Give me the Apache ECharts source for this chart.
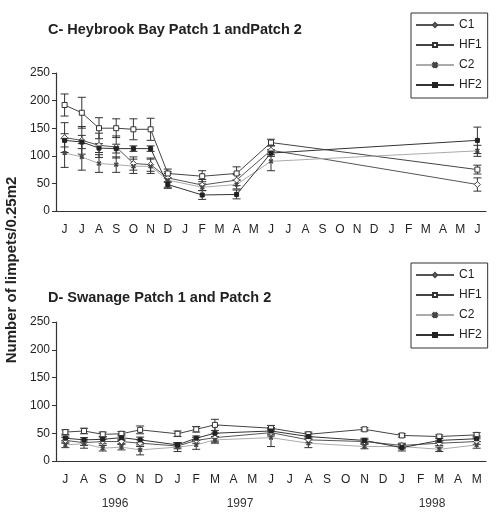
<!DOCTYPE html>
<html>
<head>
<meta charset="utf-8">
<script src="https://cdn.jsdelivr.net/npm/echarts@6/dist/echarts.min.js"></script>
<style>
  html, body { margin: 0; padding: 0; background: #fff; }
  #chart { width: 499px; height: 517px; }
</style>
</head>
<body>
<div id="chart"></div>
<script>
// month categories
const topMonths = ['J','J','A','S','O','N','D','J','F','M','A','M','J','J','A','S','O','N','D','J','F','M','A','M','J'];
const botMonths = ['J','A','S','O','N','D','J','F','M','A','M','J','J','A','S','O','N','D','J','F','M','A','M'];
const yearLabels = ['1996', '1997', '1998'];
const seriesNames = ['C1', 'HF1', 'C2', 'HF2'];

// C- Heybrook Bay (null = not sampled)
const topC1  = [133, 128, 119, 116, 86, 84, 60, null, 47, null, 56, null, 110, null, null, null, null, null, null, null, null, null, null, null, 48];
const topHF1 = [192, 178, 150, 150, 148, 148, 68, null, 63, null, 68, null, 124, null, null, null, null, null, null, null, null, null, null, null, 75];
const topC2  = [105, 98, 86, 84, 81, 81, 56, null, 43, null, 48, null, 90, null, null, null, null, null, null, null, null, null, null, null, 109];
const topHF2 = [128, 125, 114, 113, 113, 113, 48, null, 29, null, 30, null, 105, null, null, null, null, null, null, null, null, null, null, null, 128];
const topC1Err  = [27, 25, 22, 20, 12, 12, 8, null, 10, null, 10, null, 8, null, null, null, null, null, null, null, null, null, null, null, 12];
const topHF1Err = [20, 28, 19, 17, 19, 20, 8, null, 10, null, 12, null, 6, null, null, null, null, null, null, null, null, null, null, null, 8];
const topC2Err  = [26, 24, 16, 14, 13, 13, 15, null, 6, null, 8, null, 17, null, null, null, null, null, null, null, null, null, null, null, 10];
const topHF2Err = [12, 12, 8, 8, 5, 5, 5, null, 8, null, 8, null, 6, null, null, null, null, null, null, null, null, null, null, null, 24];

// D- Swanage
const botC1  = [37, 33, 35, 35, 32, null, 27, 37, 42, null, null, 51, null, 38, null, null, 35, null, 28, null, 32, null, 35];
const botHF1 = [52, 54, 48, 49, 56, null, 49, 57, 65, null, null, 59, null, 48, null, null, 57, null, 46, null, 44, null, 47];
const botC2  = [29, 31, 23, 25, 20, null, 25, 29, 38, null, null, 42, null, 32, null, null, 26, null, 26, null, 21, null, 29];
const botHF2 = [41, 38, 39, 42, 38, null, 29, 41, 50, null, null, 54, null, 44, null, null, 37, null, 24, null, 37, null, 40];
const botC1Err  = [5, 5, 4, 4, 6, null, 5, 5, 8, null, null, 6, null, 5, null, null, 4, null, 4, null, 4, null, 5];
const botHF1Err = [4, 5, 4, 4, 7, null, 5, 5, 10, null, null, 5, null, 4, null, null, 3, null, 3, null, 3, null, 4];
const botC2Err  = [5, 8, 5, 5, 9, null, 8, 8, 6, null, null, 16, null, 8, null, null, 4, null, 4, null, 4, null, 6];
const botHF2Err = [4, 4, 4, 5, 5, null, 4, 4, 14, null, null, 6, null, 5, null, null, 4, null, 6, null, 4, null, 5];

const FONT = 'Liberation Sans, Arial, sans-serif';
const xMark = 'path://M0,2L2,0L5,3L8,0L10,2L7,5L10,8L8,10L5,7L2,10L0,8L3,5Z';

const styles = {
  C1:  { symbol: 'diamond', size: 6, fill: '#fff', border: '#444', line: '#555' },
  HF1: { symbol: 'rect', size: 5, fill: '#fff', border: '#333', line: '#444' },
  C2:  { symbol: xMark, size: 4, fill: '#444', border: '#444', line: '#aaa' },
  HF2: { symbol: 'rect', size: 4, fill: '#222', border: '#222', line: '#333' }
};

function lineSeries(name, data, idx) {
  const s = styles[name];
  return {
    name, type: 'line', data, xAxisIndex: idx, yAxisIndex: idx,
    connectNulls: true, symbol: s.symbol, symbolSize: s.size, z: 3,
    lineStyle: { color: s.line, width: 1 },
    itemStyle: { color: s.fill, borderColor: s.border, borderWidth: 1 },
    emphasis: { disabled: true }
  };
}

function errData(vals, errs) {
  const out = [];
  vals.forEach((v, i) => {
    if (v != null && errs[i] != null) out.push([i, v - errs[i], v + errs[i]]);
  });
  return out;
}

function renderErr(params, api) {
  const x = api.value(0);
  const lo = api.coord([x, api.value(1)]);
  const hi = api.coord([x, api.value(2)]);
  const w = 4;
  const st = { stroke: '#333', lineWidth: 1 };
  return {
    type: 'group',
    children: [
      { type: 'line', shape: { x1: lo[0], y1: lo[1], x2: hi[0], y2: hi[1] }, style: st },
      { type: 'line', shape: { x1: lo[0] - w, y1: lo[1], x2: lo[0] + w, y2: lo[1] }, style: st },
      { type: 'line', shape: { x1: hi[0] - w, y1: hi[1], x2: hi[0] + w, y2: hi[1] }, style: st }
    ]
  };
}

function errSeries(name, vals, errs, idx) {
  return {
    name: name + ' err', type: 'custom', renderItem: renderErr,
    data: errData(vals, errs), xAxisIndex: idx, yAxisIndex: idx, z: 2,
    encode: { x: 0, y: [1, 2] }, silent: true
  };
}

const topSets = [[topC1, topC1Err], [topHF1, topHF1Err], [topC2, topC2Err], [topHF2, topHF2Err]];
const botSets = [[botC1, botC1Err], [botHF1, botHF1Err], [botC2, botC2Err], [botHF2, botHF2Err]];

const series = [];
[topSets, botSets].forEach((sets, idx) => {
  sets.forEach(([v, e], k) => series.push(errSeries(seriesNames[k], v, e, idx)));
  sets.forEach(([v], k) => series.push(lineSeries(seriesNames[k], v, idx)));
});

function xAxis(data, idx) {
  return {
    type: 'category', data, gridIndex: idx, boundaryGap: true,
    axisLine: { lineStyle: { color: '#333', width: 1.2 } },
    axisTick: { length: 4, lineStyle: { color: '#333' } },
    axisLabel: { interval: 0, color: '#222', fontSize: 12, fontFamily: FONT, margin: 13 },
    splitLine: { show: false }
  };
}

function yAxis(idx) {
  return {
    type: 'value', gridIndex: idx, min: 0, max: 250, interval: 50,
    axisLine: { show: true, lineStyle: { color: '#333', width: 1.2 } },
    axisTick: { show: true, length: 4, lineStyle: { color: '#333' } },
    axisLabel: { color: '#222', fontSize: 12, fontFamily: FONT, margin: 6 },
    splitLine: { show: false }
  };
}

function legend(top) {
  return {
    data: seriesNames, orient: 'vertical', left: 411, top,
    itemWidth: 38, itemHeight: 5, itemGap: 8,
    padding: [6, 6, 7, 4],
    borderColor: '#333', borderWidth: 1,
    selectedMode: false,
    textStyle: { color: '#222', fontSize: 12, fontFamily: FONT }
  };
}

const chart = echarts.init(document.getElementById('chart'));
chart.setOption({
  animation: false,
  title: [
    { text: 'C- Heybrook Bay Patch 1 andPatch 2', left: 43, top: 17,
      textStyle: { fontSize: 14.5, fontWeight: 'bold', color: '#222', fontFamily: FONT } },
    { text: 'D- Swanage Patch 1 and Patch 2', left: 43, top: 285,
      textStyle: { fontSize: 14.5, fontWeight: 'bold', color: '#222', fontFamily: FONT } }
  ],
  legend: [legend(13), legend(263)],
  grid: [
    { left: 56, right: 13, top: 73, height: 138 },
    { left: 56, right: 13, top: 322, height: 139 }
  ],
  xAxis: [xAxis(topMonths, 0), xAxis(botMonths, 1)],
  yAxis: [yAxis(0), yAxis(1)],
  graphic: [
    { type: 'text', x: 12, y: 270, rotation: Math.PI / 2,
      style: { text: 'Number of limpets/0.25m2', fill: '#222', font: 'bold 15px ' + FONT,
               textAlign: 'center', textVerticalAlign: 'middle' } },
    ...yearLabels.map((t, i) => ({
      type: 'text', x: [115, 240, 432][i], y: 504,
      style: { text: t, fill: '#333', font: '12px ' + FONT, textAlign: 'center', textVerticalAlign: 'middle' }
    }))
  ],
  series
});
</script>
</body>
</html>
